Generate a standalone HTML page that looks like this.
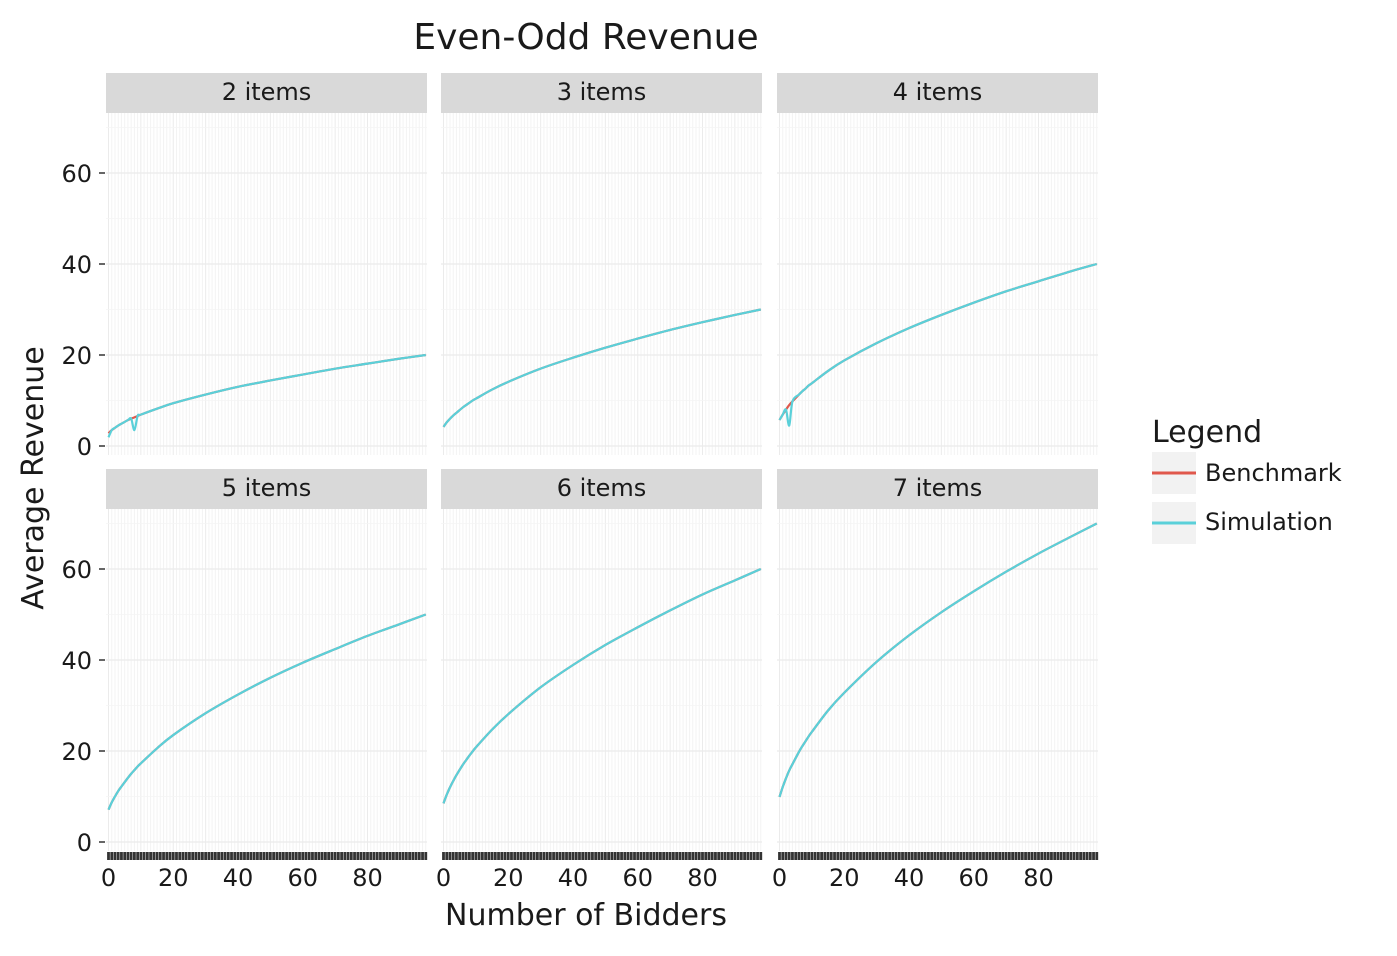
<!DOCTYPE html>
<html><head><meta charset="utf-8"><style>
body{margin:0;background:#fff}
svg text{font-family:"DejaVu Sans","Liberation Sans",sans-serif;fill:#1a1a1a}
</style></head><body>
<svg id="c" width="1397" height="951" xmlns="http://www.w3.org/2000/svg">
<text x="586" y="49" font-size="36" text-anchor="middle">Even-Odd Revenue</text>
<text x="586" y="925" font-size="30" text-anchor="middle">Number of Bidders</text>
<text x="0" y="0" font-size="30" text-anchor="middle" transform="translate(43,478) rotate(-90)">Average Revenue</text>
<g>
<text x="1152" y="442" font-size="30">Legend</text>
<rect x="1152" y="452" width="44" height="42" fill="#f2f2f2"/>
<line x1="1152" y1="473" x2="1196" y2="473" stroke="#e0584c" stroke-width="3"/>
<text x="1205" y="481" font-size="24">Benchmark</text>
<rect x="1152" y="502" width="44" height="42" fill="#f2f2f2"/>
<line x1="1152" y1="523" x2="1196" y2="523" stroke="#5ad0d9" stroke-width="3"/>
<text x="1205" y="530" font-size="24">Simulation</text>
</g>
<g id="panels"></g>
</svg>
<script>
const xs=[0,1,2,3,4,6,7,8,9,10,15,20,30,40,50,60,70,80,90,98];
const panelLabels=["2 items","3 items","4 items","5 items","6 items","7 items"];
const bench2=[2.8,3.5,4.0,4.5,4.9,5.7,6.0,6.3,6.6,6.9,8.2,9.4,11.3,13.0,14.4,15.7,17.0,18.1,19.2,20];
const sim2=[1.9,3.5,4.0,4.5,4.9,5.7,6.0,3.5,6.6,6.9,8.2,9.4,11.3,13.0,14.4,15.7,17.0,18.1,19.2,20];
const bench3=[4.2,5.2,6.0,6.7,7.3,8.5,9.0,9.5,10.0,10.4,12.4,14.1,17.0,19.4,21.6,23.6,25.5,27.2,28.8,30];
const sim3=[4.2,5.2,6.0,6.7,7.3,8.5,9.0,9.5,10.0,10.4,12.4,14.1,17.0,19.4,21.6,23.6,25.5,27.2,28.8,30];
const bench4=[5.7,6.9,8.0,9.0,9.8,11.3,12.0,12.6,13.3,13.8,16.5,18.8,22.6,25.9,28.8,31.5,34.0,36.2,38.4,40];
const sim4=[5.7,6.9,8.0,4.5,9.8,11.3,12.0,12.6,13.3,13.8,16.5,18.8,22.6,25.9,28.8,31.5,34.0,36.2,38.4,40];
const bench5=[7.1,8.7,10,11.2,12.2,14.1,15,15.8,16.6,17.3,20.6,23.5,28.3,32.4,36.1,39.4,42.4,45.3,47.9,50];
const sim5=[7.1,8.7,10,11.2,12.2,14.1,15,15.8,16.6,17.3,20.6,23.5,28.3,32.4,36.1,39.4,42.4,45.3,47.9,50];
const bench6=[8.5,10.4,12,13.4,14.7,17,18,19,19.9,20.8,24.7,28.1,34,38.9,43.3,47.2,50.9,54.4,57.5,60];
const sim6=[8.5,10.4,12,13.4,14.7,17,18,19,19.9,20.8,24.7,28.1,34,38.9,43.3,47.2,50.9,54.4,57.5,60];
const bench7=[9.9,12.1,14,15.7,17.1,19.8,21,22.1,23.2,24.2,28.9,32.8,39.6,45.4,50.5,55.1,59.4,63.4,67.1,70];
const sim7=[9.9,12.1,14,15.7,17.1,19.8,21,22.1,23.2,24.2,28.9,32.8,39.6,45.4,50.5,55.1,59.4,63.4,67.1,70];
const yTicks=[0,20,40,60];
const xTicks=[0,20,40,60,80];
const benches=[bench2,bench3,bench4,bench5,bench6,bench7];
const sims=[sim2,sim3,sim4,sim5,sim6,sim7];
const NS="http://www.w3.org/2000/svg";
const root=document.getElementById('panels');
function mk(t,a,p){const e=document.createElementNS(NS,t);for(const k in a)e.setAttribute(k,a[k]);(p||root).appendChild(e);return e;}
function smooth(P){
  let d='M'+P[0][0]+','+P[0][1];
  for(let i=0;i<P.length-1;i++){
    const p0=P[Math.max(0,i-1)],p1=P[i],p2=P[i+1],p3=P[Math.min(P.length-1,i+2)];
    const c1=[p1[0]+(p2[0]-p0[0])/6,p1[1]+(p2[1]-p0[1])/6];
    const c2=[p2[0]-(p3[0]-p1[0])/6,p2[1]-(p3[1]-p1[1])/6];
    d+=' C'+c1+' '+c2+' '+p2;
  }
  return d;
}
const lefts=[106,441,777], tops=[113,509], W=321, H=342;
for(let i=0;i<6;i++){
  const L=lefts[i%3], T=tops[Math.floor(i/3)];
  const g=mk('g',{});
  
  
  const sx=v=>L+2.5+v*3.2375;
  const sy=v=>T+333-v*4.55;
  for(let v=0;v<=98;v++){const X=sx(v);mk('line',{x1:X,x2:X,y1:T,y2:T+H,stroke:v%10===0?'#ebebeb':'#f3f3f3','stroke-width':1},g);}
  for(let v=0;v<=70;v+=10){const Y=sy(v);mk('line',{x1:L,x2:L+W,y1:Y,y2:Y,stroke:v%20===0?'#ebebeb':'#f5f5f5','stroke-width':v%20===0?1.3:0.8},g);}
  const s=mk('rect',{x:L,y:T-40,width:W,height:40,fill:'#d9d9d9'},g);
  
  
  const st=mk('text',{x:L+W/2,y:T-13,'font-size':24,'text-anchor':'middle'},g);st.textContent=panelLabels[i];
  
  
  if(i%3===0){for(const v of yTicks){const Y=sy(v);mk('line',{x1:L-7,x2:L-1,y1:Y,y2:Y,stroke:'#333','stroke-width':1.5},g);
    const t=mk('text',{x:L-14,y:Y+9,'font-size':24,'text-anchor':'end'},g);t.textContent=v;
    
    }}
  if(i>=3){for(let v=0;v<=98;v++){const X=sx(v);mk('line',{x1:X,x2:X,y1:T+H+1,y2:T+H+9,stroke:'#333','stroke-width':2.8},g);}
    for(const v of xTicks){const t=mk('text',{x:sx(v),y:T+H+35,'font-size':24,'text-anchor':'middle'},g);t.textContent=v;
    
    }}
  const pb=mk('path',{d:smooth(xs.map((x,j)=>[sx(x),sy(benches[i][j])])),fill:'none',stroke:'#e0584c','stroke-width':2.2},g);
  
  
  const ps=mk('path',{d:smooth(xs.map((x,j)=>[sx(x),sy(sims[i][j])])),fill:'none',stroke:'#5ad0d9','stroke-width':2.2},g);
  
  
}
</script>
</body></html>
